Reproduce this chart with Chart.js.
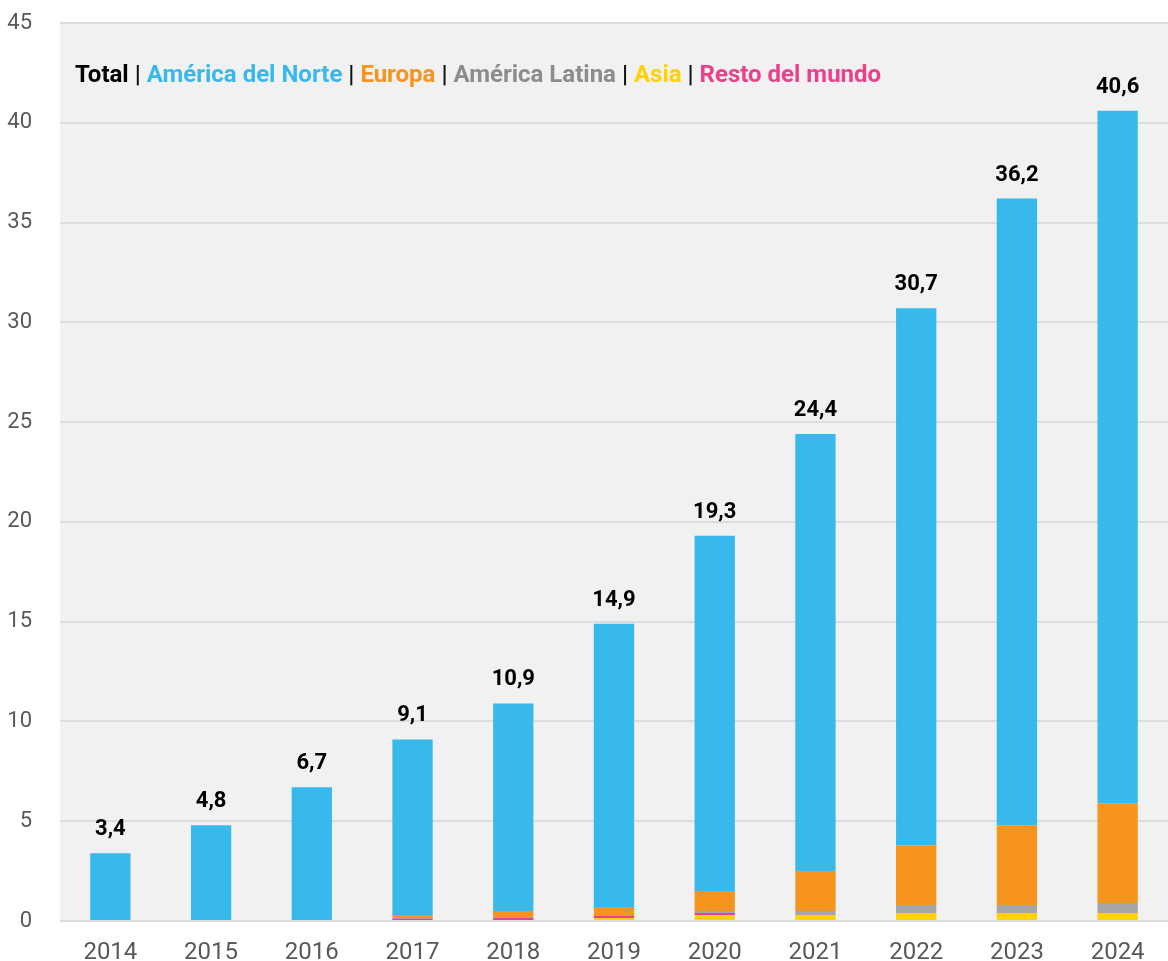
<!DOCTYPE html>
<html>
<head>
<meta charset="utf-8">
<script src="https://cdn.jsdelivr.net/npm/chart.js@4/dist/chart.umd.min.js"></script>
<style>
    body { margin: 0; background: #fff; }
    #wrap { position: relative; width: 1168px; height: 961px; }
    #leyenda {
        position: absolute; left: 75px; top: 62px;
        font-family: 'Roboto', sans-serif; font-weight: bold; font-size: 24px; line-height: 24px;
        color: #000; white-space: nowrap;
    }
    #leyenda .sep { color: #111; }
</style>
</head>
<body>
<div id="wrap">
    <canvas id="chartAnual"></canvas>
    <div id="leyenda">
        <span style="color:#000">Total</span> <span class="sep">|</span>
        <span style="color:#38B9EC">América del Norte</span> <span class="sep">|</span>
        <span style="color:#F7941E">Europa</span> <span class="sep">|</span>
        <span style="color:#8C8C8C">América Latina</span> <span class="sep">|</span>
        <span style="color:#FFD200">Asia</span> <span class="sep">|</span>
        <span style="color:#EC3F8C">Resto del mundo</span>
    </div>
</div>
<script>
var anios = ['2014', '2015', '2016', '2017', '2018', '2019', '2020', '2021', '2022', '2023', '2024'];
var asia = [0, 0, 0, 0.05, 0.05, 0.15, 0.3, 0.3, 0.4, 0.4, 0.4];
var restoMundo = [0, 0, 0, 0.08, 0.1, 0.1, 0.1, 0, 0, 0, 0];
var americaLatina = [0, 0, 0, 0.02, 0.05, 0.05, 0.1, 0.2, 0.4, 0.4, 0.5];
var europa = [0, 0, 0.05, 0.15, 0.3, 0.4, 1.0, 2.0, 3.0, 4.0, 5.0];
var americaNorte = [3.4, 4.8, 6.65, 8.8, 10.4, 14.2, 17.8, 21.9, 26.9, 31.4, 34.7];
var totales = [3.4, 4.8, 6.7, 9.1, 10.9, 14.9, 19.3, 24.4, 30.7, 36.2, 40.6];
var ticksY = [0, 5, 10, 15, 20, 25, 30, 35, 40, 45];

document.addEventListener('DOMContentLoaded', function () {
    var ctx = document.getElementById('chartAnual').getContext('2d');

    // fondo gris del area de grafica
    var fondoArea = {
        id: 'fondoArea',
        beforeDraw: function (chart) {
            var a = chart.chartArea;
            chart.ctx.save();
            chart.ctx.fillStyle = '#F1F1F1';
            chart.ctx.fillRect(a.left, a.top, a.right - a.left, a.bottom - a.top);
            chart.ctx.restore();
        }
    };

    // totales encima de cada barra
    var etiquetasTotal = {
        id: 'etiquetasTotal',
        afterDatasetsDraw: function (chart) {
            var c = chart.ctx;
            var meta = chart.getDatasetMeta(0);
            var y = chart.scales.y;
            c.save();
            c.font = "bold 22px 'Roboto', sans-serif";
            c.fillStyle = '#000';
            c.textAlign = 'center';
            c.textBaseline = 'alphabetic';
            totales.forEach(function (t, i) {
                c.fillText(t.toFixed(1).replace('.', ','), meta.data[i].x, y.getPixelForValue(t) - 18);
            });
            c.restore();
        }
    };

    function serie(nombre, datos, color) {
        return {
            label: nombre,
            data: datos,
            backgroundColor: color,
            borderWidth: 0,
            barPercentage: 0.5,
            categoryPercentage: 0.8
        };
    }

    new Chart(ctx, {
        type: 'bar',
        data: {
            labels: anios,
            datasets: [
                serie('Asia', asia, '#FFD200'),
                serie('Resto del mundo', restoMundo, '#EC3F8C'),
                serie('América Latina', americaLatina, '#A6A6A6'),
                serie('Europa', europa, '#F7941E'),
                serie('América del Norte', americaNorte, '#38B9EC')
            ]
        },
        options: {
            responsive: true,
            maintainAspectRatio: false,
            animation: false,
            layout: { padding: { top: 23, right: 0, left: 0, bottom: 0 } },
            plugins: {
                legend: { display: false },
                tooltip: { enabled: false }
            },
            scales: {
                x: {
                    stacked: true,
                    afterFit: function (scale) { scale.height = 40; },
                    grid: { display: false, drawTicks: false },
                    border: { display: false },
                    ticks: {
                        font: { family: "'Roboto', sans-serif", size: 24 },
                        color: '#595959',
                        padding: 18,
                        maxRotation: 0
                    }
                },
                y: {
                    stacked: true,
                    min: 0,
                    max: 45,
                    afterFit: function (scale) {
                        scale.width = 60;
                        scale.paddingTop = 0;
                        scale.paddingBottom = 0;
                    },
                    afterBuildTicks: function (scale) {
                        scale.ticks = ticksY.map(function (v) { return { value: v }; });
                    },
                    grid: { color: '#DCDCDC', lineWidth: 2, drawTicks: false },
                    border: { display: false },
                    ticks: {
                        font: { family: "'Roboto', sans-serif", size: 22 },
                        color: '#595959',
                        padding: 28
                    }
                }
            }
        },
        plugins: [fondoArea, etiquetasTotal]
    });
});
</script>
</body>
</html>
